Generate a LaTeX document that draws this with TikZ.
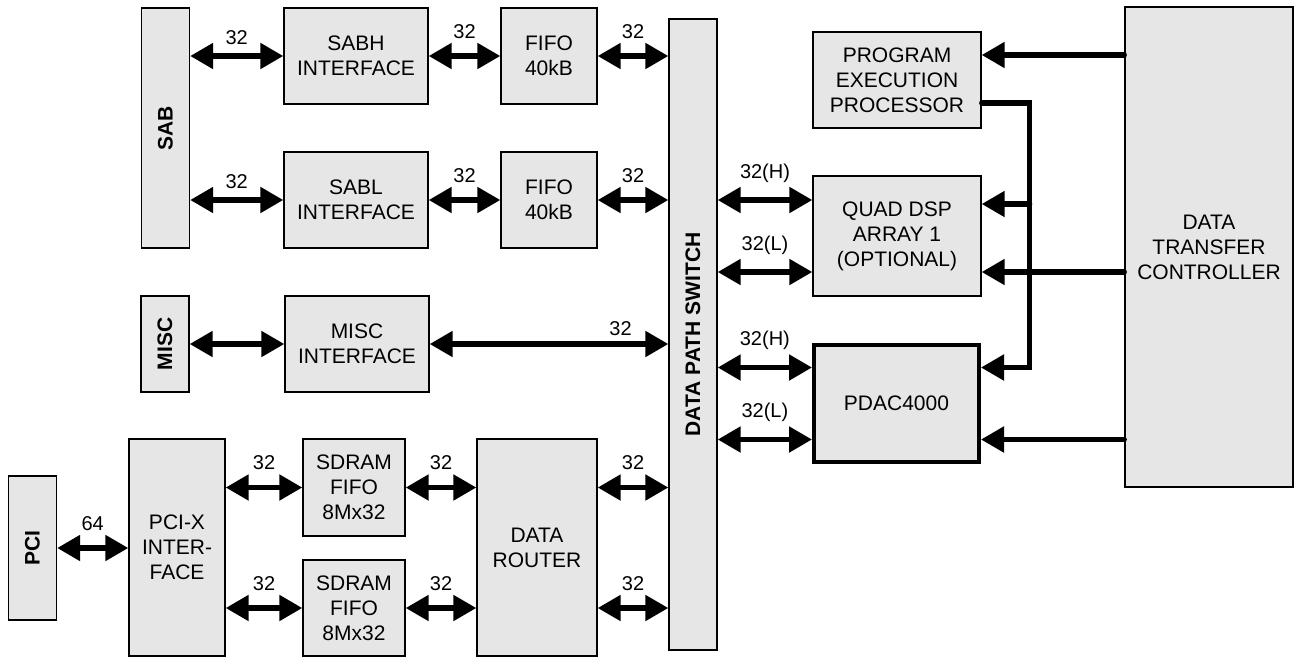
\documentclass[tikz,border=0pt]{standalone}
\usepackage{fontspec}
\setmainfont{Liberation Sans}
\usetikzlibrary{arrows.meta,positioning}
\definecolor{boxgray}{RGB}{230,230,230}
\newcommand{\vlabel}[1]{\rotatebox{90}{\bfseries #1}}

\begin{document}
\begin{tikzpicture}[x=0.5pt, y=-0.5pt,
    blk/.style={draw, line width=0.7pt, fill=boxgray, align=center, inner sep=1pt, font=\fontsize{10.5}{12.5}\selectfont},
    bar/.style={blk, minimum width=24pt},
    unit/.style={blk, minimum width=72pt, minimum height=48pt},
    bus/.style={{Triangle[length=11.5pt,width=12.5pt]}-{Triangle[length=11.5pt,width=12.5pt]}, line width=2.6pt},
    ctl/.style={-{Triangle[length=11.5pt,width=12.5pt]}, line width=2.6pt, line cap=round},
    lbl/.style={font=\fontsize{10}{12}\selectfont, inner sep=0pt, above=7.4pt}]

\useasboundingbox (0,0) rectangle (1296,660);

% Left side blocks
\node[bar, minimum height=120pt] (sab) at (165.5,128) {\vlabel{SAB}};
\node[unit] (sabh) at (356,56) {SABH\\INTERFACE};
\node[unit, minimum width=48pt] (fifoh) at (549,56) {FIFO\\40kB};
\node[unit] (sabl) at (356,200) {SABL\\INTERFACE};
\node[unit, minimum width=48pt] (fifol) at (549,200) {FIFO\\40kB};
\node[bar, minimum height=48pt] (misc) at (165,344) {\vlabel{MISC}};
\node[unit] (misci) at (357,344) {MISC\\INTERFACE};
\node[bar, minimum height=72pt] (pci) at (32.5,548) {\vlabel{PCI}};
\node[blk, minimum width=48pt, minimum height=108.5pt] (pcix) at (177,547.5) {PCI-X\\INTER-\\FACE};
\node[unit, minimum width=51pt, minimum height=48.5pt] (sdram1) at (354,487.5) {SDRAM\\FIFO\\8Mx32};
\node[unit, minimum width=51pt] (sdram2) at (354,608) {SDRAM\\FIFO\\8Mx32};
\node[blk, minimum width=60pt, minimum height=108.5pt] (router) at (537,547.5) {DATA\\ROUTER};
\node[bar, minimum height=315.5pt] (dps) at (693,334.5) {\vlabel{DATA PATH SWITCH}};

% Right side blocks
\node[unit, minimum width=84pt] (pep) at (897,80) {PROGRAM\\EXECUTION\\PROCESSOR};
\node[unit, minimum width=84pt, minimum height=60pt] (quad) at (897,236) {QUAD DSP\\ARRAY 1\\(OPTIONAL)};
\node[blk, line width=2pt, minimum width=82.5pt, minimum height=58.5pt] (pdac) at (896.5,403.5) {PDAC4000};
\node[blk, minimum width=84pt, minimum height=240pt] (dtc) at (1209,247) {DATA\\TRANSFER\\CONTROLLER};

% Bus taps
\coordinate (qhw) at ([yshift=18pt]quad.west);
\coordinate (qlw) at ([yshift=-18pt]quad.west);
\coordinate (phw) at ([yshift=18pt]pdac.west);
\coordinate (plw) at ([yshift=-18pt]pdac.west);
\coordinate (pepin) at ([yshift=12.5pt]pep.east);
\coordinate (pepout) at ([yshift=-11.5pt]pep.east);
\coordinate (qin) at ([yshift=16pt]quad.east);
\coordinate (qdtc) at ([yshift=-18pt]quad.east);
\coordinate (pin) at ([yshift=18pt]pdac.east);
\coordinate (pdtc) at ([yshift=-18pt]pdac.east);
\coordinate (tap) at ([xshift=24pt]pepout);

% Data buses
\draw[bus] (sab.east |- sabh.west) -- node[lbl, above=4.4pt] {32} (sabh.west);
\draw[bus] (sabh) -- node[lbl] {32} (fifoh);
\draw[bus] (fifoh) -- node[lbl] {32} (fifoh -| dps.west);
\draw[bus] (sab.east |- sabl.west) -- node[lbl, above=4.4pt] {32} (sabl.west);
\draw[bus] (sabl) -- node[lbl] {32} (fifol);
\draw[bus] (fifol) -- node[lbl] {32} (fifol -| dps.west);
\draw[bus] (misc) -- (misci);
\draw[bus] (misci) -- node[lbl, pos=0.8, above=2.9pt] {32} (misci -| dps.west);
\draw[bus] (pci) -- node[lbl] {64} (pci -| pcix.west);
\draw[bus] (pcix.east |- sdram1) -- node[lbl] {32} (sdram1);
\draw[bus] (pcix.east |- sdram2) -- node[lbl] {32} (sdram2);
\draw[bus] (sdram1) -- node[lbl] {32} (sdram1 -| router.west);
\draw[bus] (sdram2) -- node[lbl] {32} (sdram2 -| router.west);
\draw[bus] (router.east |- sdram1) -- node[lbl] {32} (sdram1 -| dps.west);
\draw[bus] (router.east |- sdram2) -- node[lbl] {32} (sdram2 -| dps.west);
\draw[bus] (dps.east |- qhw) -- node[lbl] {32(H)} (qhw);
\draw[bus] (dps.east |- qlw) -- node[lbl] {32(L)} (qlw);
\draw[bus] (dps.east |- phw) -- node[lbl] {32(H)} (phw);
\draw[bus] (dps.east |- plw) -- node[lbl] {32(L)} (plw);

% Control lines
\draw[ctl] (dtc.west |- pepin) -- (pepin);
\draw[ctl] (dtc.west |- qdtc) -- (qdtc);
\draw[ctl] (dtc.west |- pdtc) -- (pdtc);
\draw[ctl, line join=miter] (pepout) -- (tap) |- (pin);
\draw[ctl] (tap |- qin) -- (qin);

\end{tikzpicture}
\end{document}
